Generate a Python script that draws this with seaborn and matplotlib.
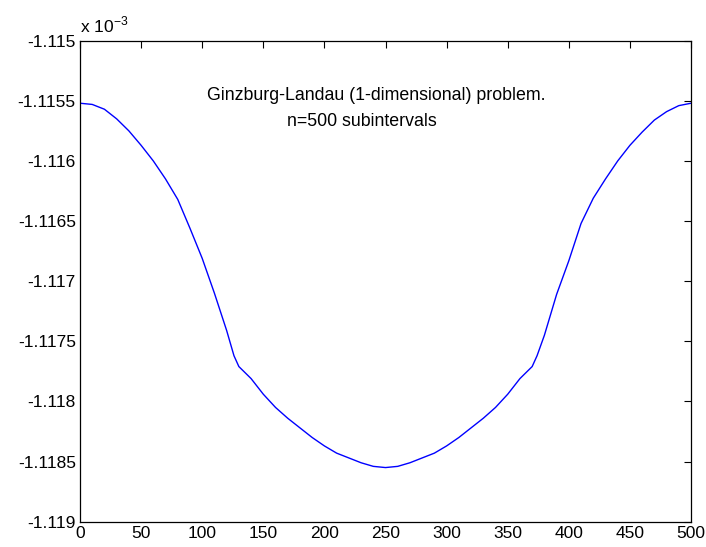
import numpy as np
import pandas as pd
import matplotlib
matplotlib.use('Agg')
import matplotlib.pyplot as plt
import seaborn as sns

# 数据（纵轴单位 x 10^-3）
x_vals = [0, 10, 20, 30, 40, 50, 60, 70, 80, 90, 100, 110, 120, 126, 130,
          140, 150, 160, 170, 180, 190, 200, 210, 220, 230, 240, 250,
          260, 270, 280, 290, 300, 310, 320, 330, 340, 350, 360, 370, 374,
          380, 390, 400, 410, 420, 430, 440, 450, 460, 470, 480, 490, 500]
u_vals = [-1.11552, -1.11553, -1.11557, -1.11565, -1.11575, -1.11587, -1.11600,
          -1.11615, -1.11632, -1.11656, -1.11681, -1.11710, -1.11741, -1.11762,
          -1.11771, -1.11781, -1.11794, -1.11805, -1.11814, -1.11822, -1.11830,
          -1.11837, -1.11843, -1.11847, -1.11851, -1.11854, -1.11855,
          -1.11854, -1.11851, -1.11847, -1.11843, -1.11837, -1.11830, -1.11822,
          -1.11814, -1.11805, -1.11794, -1.11781, -1.11771, -1.11762,
          -1.11745, -1.11711, -1.11683, -1.11652, -1.11631, -1.11615, -1.11600,
          -1.11587, -1.11576, -1.11566, -1.11559, -1.11554, -1.11552]

x_ticks = [0, 50, 100, 150, 200, 250, 300, 350, 400, 450, 500]
y_ticks = [-1.119, -1.1185, -1.118, -1.1175, -1.117, -1.1165, -1.116, -1.1155, -1.115]
y_tick_labels = ['-1.119', '-1.1185', '-1.118', '-1.1175', '-1.117',
                 '-1.1165', '-1.116', '-1.1155', '-1.115']

title_line1 = 'Ginzburg-Landau (1-dimensional) problem.'
title_line2 = 'n=500 subintervals'

sns.set_style('white')
plt.rcParams['font.family'] = ['Liberation Sans', 'DejaVu Sans']
plt.rcParams['mathtext.fontset'] = 'custom'
plt.rcParams['mathtext.rm'] = 'Liberation Sans'
plt.rcParams['text.color'] = 'black'
plt.rcParams['xtick.color'] = 'black'
plt.rcParams['ytick.color'] = 'black'

df = pd.DataFrame({'x': x_vals, 'u': u_vals})

fig = plt.figure(figsize=(7.06, 5.47), dpi=100)
ax = fig.add_axes([0.1133, 0.0463, 0.8655, 0.8793])

sns.lineplot(data=df, x='x', y='u', ax=ax, color='blue', linewidth=1.0)

ax.set_xlim(0, 500)
ax.set_ylim(-1.119, -1.115)
ax.set_xticks(x_ticks)
ax.set_xticklabels([str(t) for t in x_ticks], fontsize=12.5)
ax.set_yticks(y_ticks)
ax.set_yticklabels(y_tick_labels, fontsize=12.5)
ax.set_xlabel('')
ax.set_ylabel('')
ax.tick_params(direction='in', top=True, right=True, length=5, width=0.8,
               color='black', pad=3)
for sp in ax.spines.values():
    sp.set_color('black')
    sp.set_linewidth(0.9)

# 标注文字
ax.text(104, -1.115452, title_line1, ha='left', va='center', fontsize=12.8)
ax.text(169.5, -1.115674, title_line2, ha='left', va='center', fontsize=12.8)

# 比例因子
ax.text(0.0, 1.012, r'x 10$^{\mathregular{-3}}$', transform=ax.transAxes,
        ha='left', va='bottom', fontsize=12.5)

fig.savefig('out.png', dpi=100)
plt.close(fig)
